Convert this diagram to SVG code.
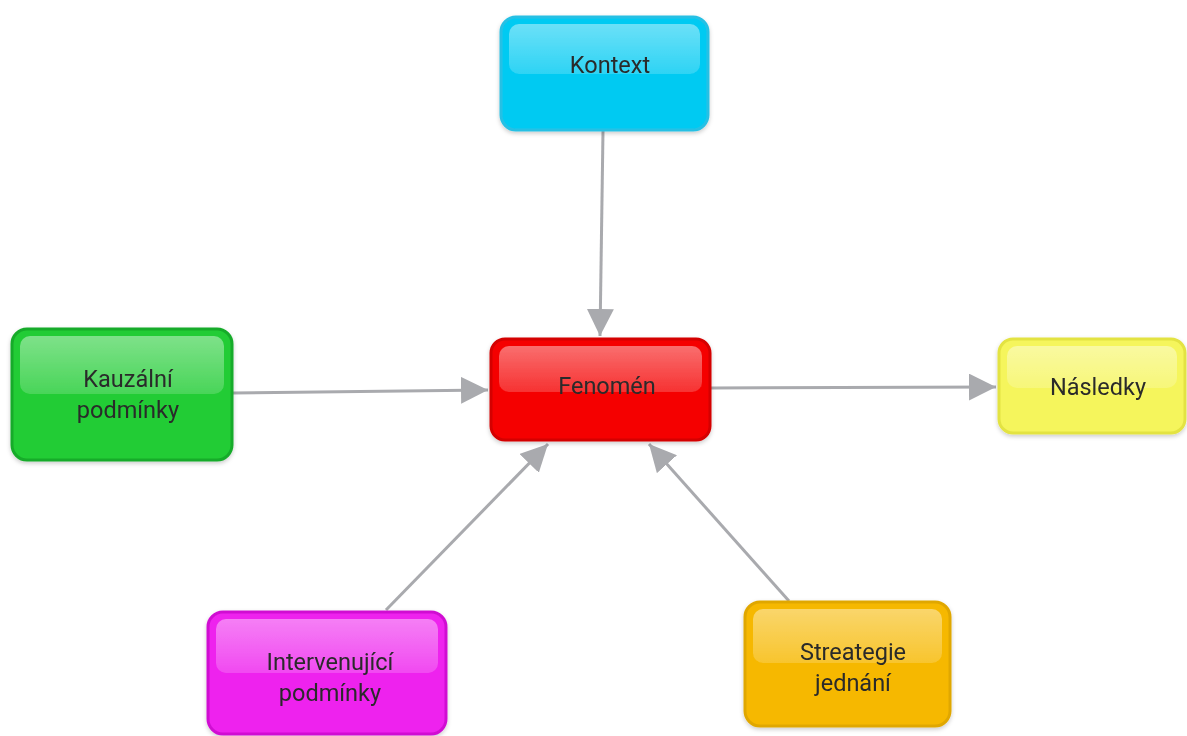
<svg xmlns="http://www.w3.org/2000/svg" width="1187" height="736" viewBox="0 0 1187 736">
<defs>
<style>
.lbl{font-family:Roboto,"Liberation Sans",sans-serif;font-size:23.5px;fill:#2a2a2a;text-anchor:middle}
.con{stroke:#a9aaae;stroke-width:3;fill:none}
.hl{fill:url(#gl)}
</style>
<linearGradient id="gl" x1="0" y1="0" x2="0" y2="1">
<stop offset="0" stop-color="#ffffff" stop-opacity="0.42"/>
<stop offset="1" stop-color="#ffffff" stop-opacity="0.18"/>
</linearGradient>
<marker id="ah" viewBox="0 0 10 10" refX="10" refY="5" markerWidth="9" markerHeight="9" markerUnits="strokeWidth" orient="auto">
<path d="M0,0 L10,5 L0,10 z" fill="#a9aaae"/>
</marker>
<filter id="sh" x="-10%" y="-10%" width="120%" height="130%">
<feDropShadow dx="0" dy="2" stdDeviation="2" flood-color="#000" flood-opacity="0.2"/>
</filter>
</defs>
<rect width="1187" height="736" fill="#ffffff"/>
<g id="connectors">
<line class="con" x1="603" y1="131" x2="600" y2="336" marker-end="url(#ah)"/>
<line class="con" x1="233" y1="393" x2="488" y2="390" marker-end="url(#ah)"/>
<line class="con" x1="711" y1="388" x2="996" y2="387" marker-end="url(#ah)"/>
<line class="con" x1="386" y1="610" x2="548" y2="444" marker-end="url(#ah)"/>
<line class="con" x1="789" y1="601" x2="649" y2="444" marker-end="url(#ah)"/>
</g>
<g id="kontext" filter="url(#sh)">
<rect x="501" y="17" width="207" height="113" rx="15" fill="#00caf2" stroke="#28c0e4" stroke-width="3"/>
<rect class="hl" x="509" y="24" width="191" height="50" rx="10"/>
<text class="lbl" x="610" y="73">Kontext</text>
</g>
<g id="fenomen" filter="url(#sh)">
<rect x="491" y="339" width="219" height="101" rx="14" fill="#f50505" stroke="#d40000" stroke-width="3"/>
<rect class="hl" x="499" y="346" width="203" height="46" rx="10"/>
<text class="lbl" x="607" y="394">Fenomén</text>
</g>
<g id="kauzalni" filter="url(#sh)">
<rect x="12" y="329" width="220" height="131" rx="15" fill="#21cc34" stroke="#18ab29" stroke-width="3"/>
<rect class="hl" x="20" y="336" width="204" height="58" rx="10"/>
<text class="lbl" x="128" y="387">Kauzální</text>
<text class="lbl" x="128" y="418">podmínky</text>
</g>
<g id="nasledky" filter="url(#sh)">
<rect x="999" y="339" width="186" height="94" rx="14" fill="#f5f55c" stroke="#e3e342" stroke-width="3"/>
<rect class="hl" x="1007" y="346" width="170" height="42" rx="10"/>
<text class="lbl" x="1098" y="395">Následky</text>
</g>
<g id="intervenujici" filter="url(#sh)">
<rect x="208" y="612" width="238" height="122" rx="15" fill="#ee22ee" stroke="#d010d2" stroke-width="3"/>
<rect class="hl" x="216" y="619" width="222" height="54" rx="10"/>
<text class="lbl" x="330" y="670">Intervenující</text>
<text class="lbl" x="330" y="701">podmínky</text>
</g>
<g id="streategie" filter="url(#sh)">
<rect x="745" y="602" width="205" height="124" rx="15" fill="#f6b800" stroke="#e0a700" stroke-width="3"/>
<rect class="hl" x="753" y="609" width="189" height="54" rx="10"/>
<text class="lbl" x="853" y="660">Streategie</text>
<text class="lbl" x="853" y="691">jednání</text>
</g>
</svg>
